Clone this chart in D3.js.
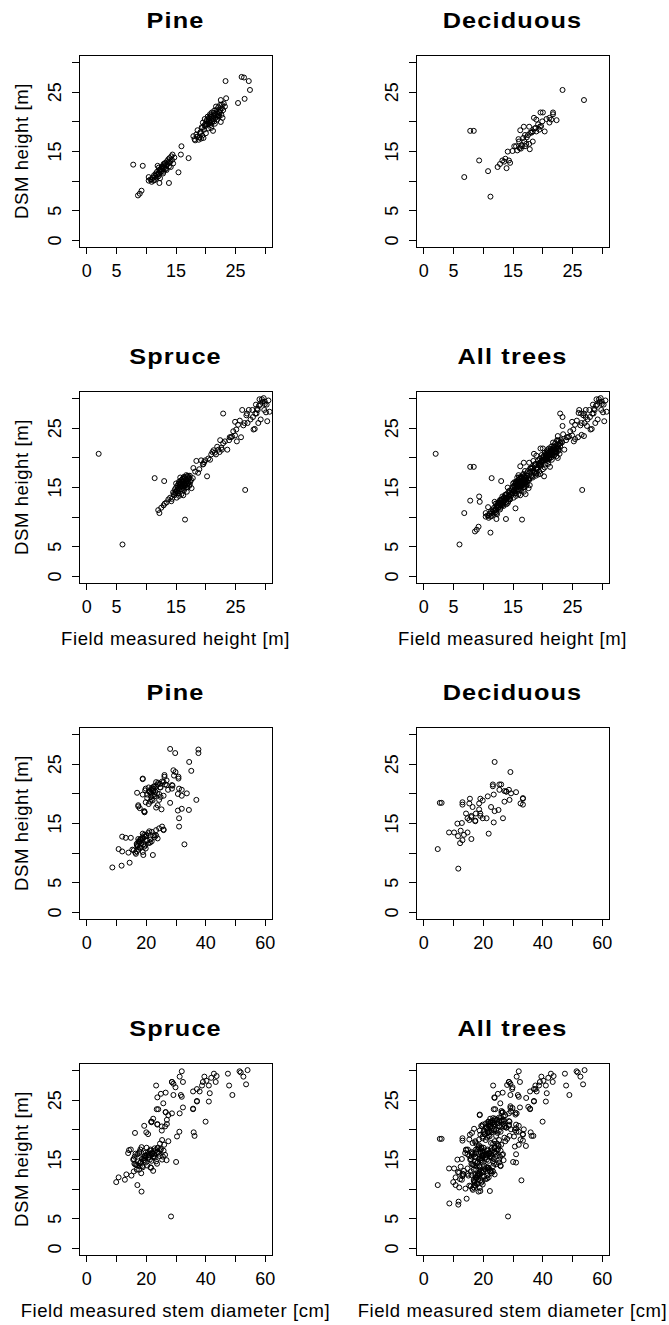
<!DOCTYPE html>
<html>
<head>
<meta charset="utf-8">
<script src="https://cdn.jsdelivr.net/npm/d3@7"></script>
<style>
  body { margin: 0; background: #fff; }
  svg { display: block; font-family: "Liberation Sans", Arial, sans-serif; }
</style>
</head>
<body>
<script>
// one row per tree: [field height (m), DSM height (m), stem diameter (cm)]
const pineTrees = [
  [8.7, 7.5, 8.8], [9.0, 7.8, 11.9], [7.9, 12.7, 12.1], [9.5, 12.5, 13.3],
  [12.3, 9.6, 22.4], [13.9, 9.6, 19.2], [15.5, 11.4, 33.0], [16.0, 15.8, 31.2],
  [17.2, 13.8, 26.0], [15.9, 14.4, 31.2], [9.3, 8.3, 14.6], [10.5, 10.6, 10.9],
  [11.0, 10.2, 12.1],
  [10.5, 10.0, 16.5], [10.8, 10.2, 17.0], [11.0, 9.8, 16.7], [11.2, 10.5, 17.5],
  [11.4, 10.9, 18.0], [11.5, 10.1, 19.0], [11.7, 11.2, 17.2], [11.9, 11.5, 18.5],
  [12.0, 11.0, 19.5], [12.1, 10.7, 20.0], [12.2, 12.2, 18.2], [12.3, 11.8, 17.8],
  [12.5, 11.4, 19.2], [12.6, 12.0, 20.5], [12.7, 11.6, 21.0], [12.8, 12.4, 18.8],
  [12.9, 11.2, 19.8], [13.0, 12.8, 20.2], [13.1, 12.2, 21.5], [13.2, 11.9, 22.0],
  [13.3, 13.0, 19.5], [13.4, 12.6, 23.0], [13.5, 11.8, 18.0], [13.6, 13.3, 20.8],
  [13.7, 12.9, 22.5], [13.8, 13.6, 21.2], [13.9, 12.4, 24.0], [14.0, 13.8, 23.5],
  [14.1, 13.2, 19.0], [14.3, 14.1, 24.5], [14.4, 13.5, 22.0], [14.5, 14.4, 25.5],
  [14.6, 12.9, 23.0], [14.8, 13.9, 26.0], [11.8, 10.5, 15.5], [12.4, 10.4, 16.0],
  [13.0, 11.5, 17.0], [12.0, 12.5, 15.0], [11.3, 10.0, 14.2], [14.2, 12.3, 17.5],
  [12.4, 11.9, 17.6], [12.7, 12.3, 18.3], [13.1, 12.6, 19.0], [12.2, 11.3, 17.0],
  [13.4, 12.0, 18.6], [11.6, 10.8, 18.2], [12.9, 12.1, 20.4], [13.6, 12.7, 19.8],
  [11.9, 11.0, 17.3], [12.5, 11.7, 21.5], [14.0, 13.0, 20.2], [13.2, 12.9, 23.5],
  [18.0, 17.5, 18.0], [18.2, 17.0, 19.5], [18.5, 17.8, 17.5], [18.7, 18.5, 20.0],
  [18.9, 16.9, 19.6], [19.0, 17.3, 25.3], [19.2, 18.2, 21.0], [19.4, 19.0, 22.0],
  [19.5, 17.6, 23.5], [19.6, 19.8, 19.0], [19.8, 18.6, 21.5], [19.9, 20.4, 22.5],
  [20.0, 19.2, 20.5], [20.1, 18.0, 24.0], [20.2, 20.0, 21.8], [20.3, 19.5, 23.0],
  [20.4, 20.8, 20.0], [20.5, 18.8, 22.3], [20.6, 19.9, 24.5], [20.7, 20.5, 19.8],
  [20.8, 21.2, 22.8], [20.9, 19.4, 25.0], [21.0, 20.2, 21.2], [21.1, 21.5, 26.5],
  [21.2, 20.0, 23.8], [21.3, 18.4, 28.2], [21.4, 20.9, 22.0], [21.5, 21.8, 24.2],
  [21.6, 19.6, 26.0], [21.7, 20.6, 27.5], [21.8, 21.0, 21.0], [21.9, 22.0, 25.5],
  [22.0, 20.3, 23.2], [22.1, 21.3, 29.0], [22.2, 22.4, 19.0], [22.3, 20.8, 28.8],
  [22.4, 21.6, 24.8], [22.5, 22.8, 26.3], [22.6, 19.9, 30.8], [22.7, 21.1, 22.6],
  [22.8, 22.2, 27.0], [22.9, 20.6, 32.1], [23.0, 21.9, 23.5], [23.1, 23.0, 29.5],
  [19.3, 17.1, 30.8], [18.6, 17.4, 32.1], [19.7, 17.2, 34.5], [21.0, 18.9, 37.0],
  [21.5, 20.0, 33.8], [20.5, 19.6, 32.1], [22.0, 20.8, 31.2], [22.4, 21.4, 28.8],
  [18.3, 16.8, 19.6], [19.1, 18.0, 17.5], [20.6, 20.1, 17.1], [21.8, 22.5, 19.0],
  [22.8, 22.8, 31.0],
  [20.3, 20.3, 21.5], [20.6, 20.6, 22.0], [21.0, 20.8, 22.5], [20.8, 19.8, 23.0],
  [21.3, 20.4, 21.0], [21.6, 21.2, 23.5], [20.1, 19.6, 22.3], [21.9, 21.5, 24.0],
  [22.2, 21.0, 25.0], [19.9, 19.4, 21.8], [21.1, 19.8, 20.5], [22.5, 21.9, 26.0],
  [20.9, 21.0, 24.8], [21.4, 21.4, 27.0], [19.5, 18.9, 24.5],
  [26.1, 27.5, 28.2], [23.4, 26.8, 29.9], [27.3, 26.8, 37.7], [26.5, 27.4, 37.7],
  [27.5, 25.3, 34.6], [26.6, 23.8, 35.3], [25.5, 23.1, 26.3], [23.5, 23.9, 29.3],
  [22.6, 23.6, 30.0], [23.3, 22.5, 31.0]
];

const deciduousTrees = [
  [6.9, 10.6, 4.9], [11.3, 7.3, 11.8], [7.9, 18.4, 5.6], [8.5, 18.4, 6.2],
  [23.4, 25.3, 24.0], [27.0, 23.6, 29.3], [9.4, 13.4, 8.7], [10.9, 11.6, 12.4],
  [12.5, 12.3, 16.2], [12.9, 12.8, 11.7], [13.3, 13.4, 10.4], [14.0, 12.1, 13.2],
  [14.6, 13.0, 13.7], [13.6, 13.2, 22.0], [13.8, 13.7, 12.6], [14.2, 14.9, 11.5],
  [15.0, 15.0, 13.0], [14.4, 13.4, 14.9], [15.6, 15.8, 14.9], [16.1, 16.6, 14.4],
  [16.3, 18.5, 13.2], [16.9, 19.1, 15.7], [17.8, 19.1, 19.2], [17.9, 15.3, 17.5],
  [17.3, 16.2, 16.2], [18.4, 16.6, 17.7], [18.6, 20.6, 25.6], [19.0, 20.3, 27.9],
  [19.7, 21.5, 23.4], [20.1, 21.5, 25.6], [21.8, 21.5, 26.2], [21.8, 21.2, 23.4],
  [21.2, 20.6, 28.8], [22.4, 20.2, 31.2], [20.4, 18.3, 32.7], [19.6, 19.1, 33.5],
  [19.0, 18.3, 15.5], [19.3, 19.5, 21.7], [17.6, 17.7, 16.6], [16.8, 17.2, 25.3],
  [16.0, 17.0, 24.0], [16.6, 15.8, 20.0], [17.1, 15.8, 21.3], [15.3, 15.8, 26.8],
  [18.4, 18.3, 18.8], [18.7, 18.8, 20.0], [20.7, 20.4, 27.3], [21.2, 19.8, 23.7],
  [17.8, 16.2, 19.2], [17.1, 17.7, 22.8], [16.2, 15.5, 15.5], [15.8, 15.1, 23.7],
  [18.0, 18.1, 33.5], [19.5, 18.6, 27.3], [20.0, 20.0, 29.5], [18.9, 18.9, 29.0],
  [17.4, 17.3, 18.8], [16.5, 16.0, 16.2], [17.0, 16.6, 19.2], [19.8, 19.2, 33.5],
  [18.2, 18.1, 13.2], [16.4, 15.4, 17.5], [21.5, 20.3, 27.9]
];

const spruceTrees = [
  [2.1, 20.6, 19.5], [6.1, 5.3, 28.5], [11.5, 16.5, 14.4], [13.1, 16.0, 14.1],
  [16.6, 9.5, 18.6], [26.7, 14.5, 30.2], [23.0, 27.4, 23.5], [20.3, 16.8, 24.0],
  [18.5, 19.4, 16.4],
  [12.1, 11.1, 10.1], [12.3, 10.6, 17.2], [12.6, 11.5, 13.0], [13.0, 11.9, 10.9],
  [13.2, 12.2, 15.2], [13.5, 12.4, 13.5], [13.8, 12.9, 16.0], [14.1, 13.2, 17.0],
  [14.3, 12.6, 18.5], [14.6, 14.1, 16.5], [14.8, 13.6, 19.0], [14.9, 14.6, 17.5],
  [15.0, 13.9, 20.5], [15.1, 14.9, 15.8], [15.2, 14.3, 18.0], [15.3, 15.2, 21.0],
  [15.4, 14.0, 16.8], [15.5, 15.5, 19.5], [15.6, 14.7, 22.0], [15.7, 15.8, 17.2],
  [15.8, 15.0, 18.7], [15.9, 16.1, 20.0], [16.0, 14.6, 23.5], [16.1, 15.4, 16.3],
  [16.2, 16.4, 21.5], [16.3, 15.1, 19.2], [16.4, 15.9, 24.5], [16.5, 16.6, 18.2],
  [16.6, 15.3, 22.5], [16.7, 16.2, 20.8], [16.8, 14.9, 25.5], [16.9, 16.0, 17.8],
  [17.0, 16.8, 23.0], [17.1, 15.6, 21.2], [17.2, 16.4, 26.0], [17.3, 15.2, 19.8],
  [17.4, 16.9, 24.0], [17.5, 15.9, 22.2], [17.7, 14.8, 27.0], [17.9, 16.5, 25.0],
  [15.6, 13.5, 21.8], [16.0, 13.8, 18.0], [15.2, 13.2, 17.8], [16.4, 14.4, 20.0],
  [16.9, 14.2, 23.8], [14.4, 13.0, 22.5], [16.2, 15.7, 26.5], [17.0, 15.0, 16.0],
  [15.8, 16.6, 15.0], [18.0, 18.2, 25.5], [18.3, 17.6, 24.8], [18.8, 17.4, 26.2],
  [19.0, 18.0, 27.6],
  [15.9, 15.6, 19.8], [16.1, 15.9, 21.0], [16.3, 16.0, 22.2], [16.5, 15.7, 20.5],
  [16.7, 15.9, 21.8], [16.0, 15.2, 23.0], [16.8, 16.3, 22.6], [17.0, 16.1, 24.2],
  [15.7, 15.3, 20.9], [16.2, 14.9, 21.4], [16.6, 16.5, 23.3], [17.2, 15.8, 22.9],
  [15.4, 14.8, 19.3], [15.8, 15.5, 22.8], [16.4, 16.7, 25.1], [16.9, 15.5, 24.7],
  [17.3, 16.6, 21.6], [15.3, 14.5, 18.4], [16.1, 16.2, 17.9], [15.6, 15.9, 16.6],
  [16.5, 14.7, 19.6], [17.1, 16.9, 20.3], [15.0, 14.2, 16.2], [14.7, 13.8, 18.8],
  [15.5, 13.9, 17.1], [17.6, 16.2, 23.8], [16.3, 13.6, 21.6], [15.1, 15.6, 19.9],
  [16.8, 17.0, 18.6], [17.4, 15.4, 25.8],
  [19.3, 19.5, 20.2], [19.8, 19.2, 20.8], [20.5, 19.8, 25.4], [20.8, 19.6, 31.3],
  [19.6, 18.8, 30.5], [21.4, 21.2, 21.9], [21.6, 20.8, 23.9], [21.8, 20.5, 26.5],
  [22.0, 21.8, 22.5], [22.2, 21.3, 21.9], [22.4, 20.9, 27.1], [22.5, 22.9, 26.7],
  [22.7, 21.6, 27.1], [23.0, 22.4, 27.6], [23.3, 22.7, 28.8], [23.7, 21.3, 40.1],
  [24.1, 23.4, 24.2], [24.3, 23.4, 23.7], [24.5, 23.5, 35.9], [24.7, 24.4, 25.9],
  [25.3, 22.7, 31.4], [25.0, 23.7, 32.5], [20.0, 19.5, 36.1], [19.7, 18.9, 36.4],
  [25.0, 26.0, 25.1], [25.2, 24.7, 37.2], [25.8, 26.2, 26.7], [26.2, 28.0, 28.8],
  [26.9, 27.1, 30.0], [27.3, 28.0, 32.5], [28.0, 26.8, 37.2], [28.1, 24.7, 41.2],
  [28.3, 24.8, 37.2], [27.1, 25.8, 31.8], [26.6, 25.8, 29.3], [28.5, 28.9, 39.7],
  [29.1, 29.8, 32.1], [29.6, 29.4, 42.9], [30.0, 29.0, 43.8], [30.6, 29.6, 51.9],
  [30.2, 27.6, 53.7], [30.8, 27.7, 29.3], [30.4, 26.1, 41.5], [29.3, 26.4, 38.1],
  [28.7, 28.2, 40.4], [27.9, 28.0, 43.5], [29.8, 30.0, 54.2], [29.5, 29.8, 51.5],
  [30.0, 29.4, 47.6], [29.2, 28.9, 52.8], [28.6, 27.4, 48.0], [28.9, 25.8, 49.1],
  [29.0, 28.7, 42.0], [28.4, 27.4, 38.9], [28.8, 28.0, 39.2], [27.6, 26.4, 35.9],
  [27.0, 27.4, 41.2], [30.3, 28.9, 31.4], [25.5, 25.5, 32.1], [26.0, 23.4, 35.9],
  [24.0, 22.9, 26.7], [26.4, 25.4, 23.9], [29.9, 28.0, 28.8], [21.2, 20.9, 23.9],
  [21.0, 20.5, 25.4], [22.8, 21.3, 21.9]
];

const allTrees = pineTrees.concat(deciduousTrees, spruceTrees);

const panelTitles = ["Pine", "Deciduous", "Spruce", "All trees"];
const heightTicks = [0, 5, 10, 15, 20, 25, 30];
const heightTickLabels = [0, 5, 15, 25];
const dbhTicks = [0, 10, 20, 30, 40, 50, 60];
const dbhTickLabels = [0, 20, 40, 60];
const dsmTicks = [0, 5, 10, 15, 20, 25, 30];
const dsmTickLabels = [0, 5, 15, 25];
const yLabel = "DSM height [m]";
const xLabels = ["Field measured height [m]", "Field measured stem diameter [cm]"];

const svg = d3.select("body").append("svg")
    .attr("width", 669)
    .attr("height", 1325);

svg.append("rect").attr("width", 669).attr("height", 1325).attr("fill", "#fff");

const colLeft = [79, 416],
    rowTop = [55, 391, 727, 1063],
    boxW = 193,
    boxH = 192;

// R style axis range: 4% extension at both ends
function padded(lo, hi){
    let e = (hi - lo) * 0.04;
    return [lo - e, hi + e];
}

function drawPanel(opt){
    let left = colLeft[opt.col],
        top = rowTop[opt.row],
        g = svg.append("g");

    let x = d3.scaleLinear().domain(padded(opt.xTicks[0], opt.xTicks[opt.xTicks.length - 1]))
        .range([left, left + boxW]);
    let y = d3.scaleLinear().domain(padded(dsmTicks[0], dsmTicks[dsmTicks.length - 1]))
        .range([top + boxH, top]);

    // x axis
    g.append("g")
        .attr("transform", `translate(0,${top + boxH})`)
        .call(d3.axisBottom(x).tickValues(opt.xTicks).tickSize(7)
            .tickFormat(d => opt.xLabels.includes(d) ? d : ""))
        .call(a => a.select(".domain").remove())
        .call(a => a.selectAll("line").attr("stroke", "#000").attr("shape-rendering", "crispEdges"))
        .call(a => a.selectAll("text")
            .attr("y", 30).attr("dy", null)
            .attr("fill", "#000")
            .style("font-size", "18px")
            .style("font-family", "'Liberation Sans', Arial, sans-serif"));

    // y axis, labels turned like R
    g.append("g")
        .attr("transform", `translate(${left},0)`)
        .call(d3.axisLeft(y).tickValues(dsmTicks).tickSize(7)
            .tickFormat(d => dsmTickLabels.includes(d) ? d : ""))
        .call(a => a.select(".domain").remove())
        .call(a => a.selectAll("line").attr("stroke", "#000").attr("shape-rendering", "crispEdges"))
        .call(a => a.selectAll("text")
            .attr("x", 0).attr("y", -18.5).attr("dy", null)
            .attr("transform", "rotate(-90)")
            .attr("text-anchor", "middle")
            .attr("fill", "#000")
            .style("font-size", "18px")
            .style("font-family", "'Liberation Sans', Arial, sans-serif"));

    g.append("rect")
        .attr("x", left).attr("y", top)
        .attr("width", boxW).attr("height", boxH)
        .attr("fill", "none")
        .attr("stroke", "#000")
        .attr("stroke-width", 1)
        .attr("shape-rendering", "crispEdges");

    g.append("g").selectAll("circle")
        .data(opt.trees)
        .join("circle")
        .attr("cx", d => x(d[opt.xIndex]))
        .attr("cy", d => y(d[1]))
        .attr("r", 2.5)
        .attr("fill", "none")
        .attr("stroke", "#000")
        .attr("stroke-width", 1);

    g.append("text")
        .attr("transform", `translate(${left + boxW / 2},${top - 27}) scale(1.15,1)`)
        .attr("text-anchor", "middle")
        .style("font-size", "22px")
        .style("font-weight", "bold")
        .style("letter-spacing", "1px")
        .text(opt.title);

    if(opt.col === 0){
        g.append("text")
            .attr("transform", `translate(28,${top + boxH / 2}) rotate(-90)`)
            .attr("text-anchor", "middle")
            .style("font-size", "18.5px")
            .style("letter-spacing", "0.6px")
            .text(yLabel);
    }
    if(opt.xTitle){
        g.append("text")
            .attr("x", left + boxW / 2)
            .attr("y", top + boxH + 62)
            .attr("text-anchor", "middle")
            .style("font-size", "18.5px")
            .style("letter-spacing", "0.6px")
            .text(opt.xTitle);
    }
}

const groups = [pineTrees, deciduousTrees, spruceTrees, allTrees];

groups.forEach((trees, i) => {
    // height block (rows 0-1), then stem diameter block (rows 2-3)
    drawPanel({
        trees: trees, title: panelTitles[i],
        row: Math.floor(i / 2), col: i % 2,
        xIndex: 0, xTicks: heightTicks, xLabels: heightTickLabels,
        xTitle: i >= 2 ? xLabels[0] : null
    });
    drawPanel({
        trees: trees, title: panelTitles[i],
        row: 2 + Math.floor(i / 2), col: i % 2,
        xIndex: 2, xTicks: dbhTicks, xLabels: dbhTickLabels,
        xTitle: i >= 2 ? xLabels[1] : null
    });
});
</script>
</body>
</html>
